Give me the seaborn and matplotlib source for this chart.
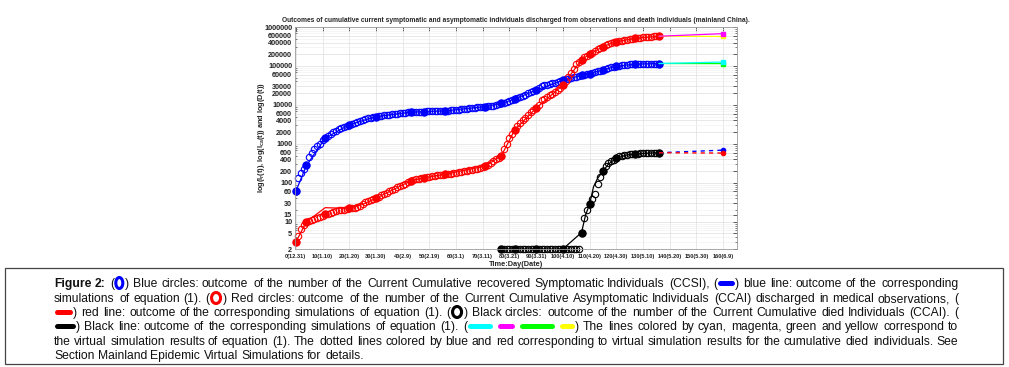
"""
Outcomes of cumulative symptomatic / asymptomatic / died individuals (mainland China)
"""

import numpy as np
import matplotlib
matplotlib.use("Agg")
import matplotlib.pyplot as plt
import seaborn as sns
from matplotlib.lines import Line2D
from matplotlib.patches import Ellipse, Rectangle
from matplotlib.ticker import LogLocator, NullFormatter

sns.set_theme(style="whitegrid")
plt.rcParams["font.family"] = ["Liberation Sans", "DejaVu Sans"]

# ---- data --------------------------------------------------------------------
days = np.arange(0, 137)

blue_obs = [
    60, 130, 180, 220, 280, 470, 600, 750, 880, 1000,
    1250, 1400, 1600, 1800, 2000, 2200, 2400, 2600, 2750, 2900,
    3100, 3300, 3500, 3700, 3900, 4100, 4300, 4500, 4700, 4850,
    5000, 5150, 5300, 5450, 5550, 5650, 5750, 5850, 5950, 6050,
    6200, 6300, 6400, 6500, 6550, 6600, 6650, 6700, 6750, 6800,
    6850, 6880, 6900, 6950, 6980, 7000, 7050, 7100, 7200, 7300,
    7400, 7500, 7650, 7800, 7950, 8100, 8300, 8500, 8700, 8850,
    9000, 9100, 9250, 9400, 9650, 10000, 10400, 10900, 11500, 12100,
    12700, 13300, 14200, 15200, 16200, 17300, 18500, 19800, 21000, 22500,
    24000, 27500, 30000, 31500, 33000, 34500, 36000, 37500, 39500, 41500,
    43000, 45000, 47000, 49000, 51000, 53000, 55500, 57500, 59500, 62000,
    64000, 67000, 70000, 73000, 76000, 79000, 83000, 88000, 92000, 95000,
    98000, 101000, 103000, 105000, 107000, 109000, 110500, 111500, 112500, 113000,
    113500, 114000, 114500, 115000, 115000, 115500, 115500,
]

red_obs = [
    3, 4.4, 6.5, 8.5, 10, 10.5, 11, 12, 12.5, 13,
    14, 15.5, 16, 17, 18, 19, 19.5, 20, 20.5, 21,
    22, 22.5, 23, 24, 25, 28, 32, 35, 37, 39,
    40, 44, 48, 52, 56, 61, 66, 71, 77, 83,
    89, 96, 104, 112, 118, 123, 127, 131, 135, 139,
    143, 147, 151, 155, 159, 163, 167, 170, 173, 176,
    180, 185, 190, 196, 202, 208, 214, 220, 228, 238,
    250, 270, 290, 320, 360, 400, 440, 500, 750, 1000,
    1400, 1800, 2300, 2900, 3500, 4100, 4700, 5500, 6500, 7400,
    8300, 10000, 13000, 14500, 16000, 17800, 19500, 21500, 23500, 27000,
    32000, 40000, 52000, 65000, 85000, 110000, 128000, 145000, 165000, 183000,
    200000, 220000, 240000, 265000, 290000, 315000, 340000, 365000, 385000, 405000,
    420000, 435000, 450000, 463000, 476000, 488000, 500000, 512000, 524000, 535000,
    545000, 553000, 560000, 566000, 571000, 576000, 580000,
]

black_days = np.arange(77, 137)
black_obs = [
    2, 2, 2, 2, 2, 2, 2, 2, 2, 2,
    2, 2, 2, 2, 2, 2, 2, 2, 2, 2,
    2, 2, 2, 2, 2, 2, 2, 2, 2, 2,
    5.3, 12.3, 20, 28, 39, 53, 94, 140, 198, 265,
    320, 360, 393, 440, 480, 500, 515, 527, 540, 550,
    560, 565, 570, 575, 580, 583, 586, 588, 590, 592,
]

filled_days = [0, 4, 11, 20, 30, 43, 48, 56, 71, 77, 82, 90, 100, 107, 110, 115, 120, 127, 136]
black_filled_days = [77, 82, 90, 100, 107, 110, 115, 120, 127, 136]

blue_sim_days = [0, 4, 11, 20, 30, 43, 48, 56, 71, 77, 82, 90, 100, 107, 110, 115, 120, 127, 136]
blue_sim = [60, 280, 1400, 3100, 5000, 6500, 6750, 7050, 9100, 10900, 14200,
            24000, 43000, 57500, 64000, 79000, 98000, 111500, 115500]
red_sim_days = [0, 4, 11, 20, 25, 30, 43, 48, 56, 71, 77, 82, 90, 100, 107, 110, 115, 120, 127, 136]
red_sim = [3, 10, 23, 22, 28, 40, 112, 135, 167, 270, 500, 2300, 8300, 32000,
           145000, 200000, 315000, 420000, 512000, 580000]
black_sim_days = [77, 82, 90, 100, 107, 108.5, 110, 111.5, 113, 115, 117, 120, 124, 127, 136]
black_sim = [2, 2, 2, 2, 5.3, 15, 28, 80, 130, 198, 300, 430, 520, 560, 592]

virt_days = [136, 160]
cyan_virt = [115500, 126000]
green_virt = [115500, 115000]
magenta_virt = [580000, 675000]
yellow_virt = [580000, 572000]
blue_dash_virt = [592, 690]
red_dash_virt = [592, 580]

x_ticks = [0, 10, 20, 30, 40, 50, 60, 70, 80, 90, 100, 110, 120, 130, 140, 150, 160]
x_tick_labels = ["0(12.31)", "10(1.10)", "20(1.20)", "30(1.30)", "40(2.9)", "50(2.19)",
                 "60(3.1)", "70(3.11)", "80(3.21)", "90(3.31)", "100(4.10)", "110(4.20)",
                 "120(4.30)", "130(5.10)", "140(5.20)", "150(5.30)", "160(6.9)"]
y_ticks = [2, 5, 10, 15, 30, 60, 100, 200, 400, 600, 1000, 2000, 4000, 6000, 10000,
           20000, 30000, 60000, 100000, 200000, 400000, 600000, 1000000]

title = ("Outcomes of cumulative current symptomatic and asymptomatic individuals "
         "discharged from observations and death individuals (mainland China).")

caption_lines = [
    [("t", "Figure 2:", "bold"), ("t", " (", "normal"), ("ring", "#0000ff", 9),
     ("t", ") Blue circles: outcome of the number of the Current Cumulative recovered "
           "Symptomatic Individuals (CCSI), (", "normal"), ("dash", "#0000ff", 16),
     ("t", ") blue line: outcome of the corresponding", "normal")],
    [("t", "simulations of equation (1). (", "normal"), ("ring", "#ff0000", 11),
     ("t", ") Red circles: outcome of the number of the Current Cumulative Asymptomatic "
           "Individuals (CCAI) discharged in medical observations, (", "normal")],
    [("dash", "#ff0000", 17),
     ("t", ") red line: outcome of the corresponding simulations of equation (1). (", "normal"),
     ("ring", "#000000", 11),
     ("t", ") Black circles: outcome of the number of the Current Cumulative died "
           "Individuals (CCAI). (", "normal")],
    [("dash", "#000000", 20),
     ("t", ") Black line: outcome of the corresponding simulations of equation (1). (", "normal"),
     ("dash", "#00ffff", 24), ("t", " ", "normal"), ("dash", "#ff00ff", 16), ("t", " ", "normal"),
     ("dash", "#00ff00", 34), ("t", " ", "normal"), ("dash", "#ffff00", 14),
     ("t", ")  The lines colored by cyan, magenta, green and yellow correspond to", "normal")],
    [("t", "the virtual simulation results of equation (1). The dotted lines colored by blue "
           "and red corresponding to virtual simulation results for the cumulative died "
           "individuals. See", "normal")],
    [("t", "Section Mainland Epidemic Virtual Simulations for details.", "normal")],
]
caption_y = [283, 298, 312, 326, 341, 355]

W, H = 1009, 367


def draw_caption(fig, lines, ys, x0, x1):
    renderer = fig.canvas.get_renderer()

    def text_width(s, weight, fs):
        t = fig.text(0, 0, s, fontsize=fs, fontweight=weight)
        w = t.get_window_extent(renderer).width
        t.remove()
        return w

    # size the font so the last line spans like the original
    fs = 10 * 312 / text_width("Section Mainland Epidemic Virtual Simulations for details.", "normal", 10)
    space = text_width("a a", "normal", fs) - text_width("aa", "normal", fs)

    for i, (segments, y) in enumerate(zip(lines, ys)):
        tokens = []
        gap = False
        for seg in segments:
            if seg[0] == "t":
                parts = seg[1].split(" ")
                for k, p in enumerate(parts):
                    if k > 0:
                        gap = True
                    if p:
                        tokens.append(("t", p, seg[2], gap, text_width(p, seg[2], fs)))
                        gap = False
            else:
                tokens.append((seg[0], seg[1], seg[2], gap, seg[2] + 2))
                gap = False
        n_gaps = sum(1 for t in tokens if t[3])
        natural = sum(t[4] for t in tokens) + space * n_gaps
        extra = (x1 - x0 - natural) / n_gaps if (i < len(lines) - 1 and n_gaps) else 0
        x = x0
        for kind, val, arg, g, w in tokens:
            if g:
                x += space + extra
            if kind == "t":
                fig.text(round(x) / W, 1 - (y + 4) / H, val, fontsize=fs, fontweight=arg,
                         color="#111111", ha="left", va="baseline")
            elif kind == "ring":
                fig.add_artist(Ellipse(((x + w / 2) / W, 1 - y / H), (arg - 2) / W, 11 / H,
                                       transform=fig.transFigure, fill=False,
                                       edgecolor=val, lw=2.2))
            else:
                fig.add_artist(Line2D([(x + 3) / W, (x + w - 3) / W], [1 - y / H, 1 - y / H],
                                      transform=fig.transFigure, color=val, lw=3.6,
                                      solid_capstyle="round"))
            x += w


fig = plt.figure(figsize=(W / 100, H / 100), dpi=100)
ax = fig.add_axes([295 / W, 1 - 249 / H, (737 - 295) / W, (249 - 27) / H])
ax.set_yscale("log")

# simulation lines
sns.lineplot(x=blue_sim_days, y=blue_sim, ax=ax, color="#0000ff", lw=0.9)
sns.lineplot(x=red_sim_days, y=red_sim, ax=ax, color="#ff0000", lw=0.9)
sns.lineplot(x=black_sim_days, y=black_sim, ax=ax, color="#000000", lw=0.9)

# observed circles
circle_kw = dict(ls="none", marker="o", ms=4.6, mfc="none", mew=0.8, clip_on=False)
ax.plot(days, blue_obs, mec="#0000ff", **circle_kw)
ax.plot(days, red_obs, mec="#ff0000", **circle_kw)
ax.plot(black_days, black_obs, mec="#000000", **circle_kw)

blue_arr, red_arr, black_arr = np.array(blue_obs), np.array(red_obs), np.array(black_obs)
ax.plot(filled_days, blue_arr[filled_days], ls="none", marker="o", ms=5, color="#0000ff", clip_on=False)
ax.plot(filled_days, red_arr[filled_days], ls="none", marker="o", ms=5, color="#ff0000", clip_on=False)
ax.plot(black_filled_days, black_arr[np.array(black_filled_days) - 77], ls="none", marker="o",
        ms=5, color="#000000", clip_on=False)

# virtual simulations
for vals, col in [(green_virt, "#00ff00"), (cyan_virt, "#00ffff"),
                  (yellow_virt, "#ffff00"), (magenta_virt, "#ff00ff")]:
    ax.plot(virt_days, vals, color=col, lw=0.9)
    ax.plot(virt_days[-1:], vals[-1:], ls="none", marker="s", ms=3, color=col)
ax.plot(virt_days, blue_dash_virt, color="#0000ff", lw=1.0, ls=(0, (3, 3)))
ax.plot(virt_days, red_dash_virt, color="#ff0000", lw=1.0, ls=(0, (3, 3)))
ax.plot(virt_days[-1:], blue_dash_virt[-1:], ls="none", marker="o", ms=3, color="#0000ff")
ax.plot(virt_days[-1:], red_dash_virt[-1:], ls="none", marker="o", ms=3, color="#ff0000")

ax.set_xlim(-0.3, 165.2)
ax.set_ylim(2, 1000000)
ax.set_xticks(x_ticks)
ax.set_xticklabels(x_tick_labels)
ax.set_yticks(y_ticks)
ax.set_yticklabels([str(v) for v in y_ticks])
ax.yaxis.set_minor_locator(LogLocator(base=10, subs=np.arange(2, 10) * 1.0, numticks=20))
ax.yaxis.set_minor_formatter(NullFormatter())

ax.tick_params(which="major", direction="in", top=True, right=True, length=3, width=0.5,
               pad=2, colors="#222222")
ax.tick_params(axis="x", labelsize=4.1, pad=3.8)
ax.tick_params(axis="y", labelsize=5.2, pad=2)
ax.tick_params(which="minor", direction="in", left=True, right=True, length=1.5, width=0.4)
for lbl in ax.get_xticklabels() + ax.get_yticklabels():
    lbl.set_fontweight("bold")

ax.grid(True, which="major", color="#dedede", lw=0.5)
ax.grid(True, which="minor", axis="y", color="#eeeeee", lw=0.4)
for sp in ax.spines.values():
    sp.set_color("#9a9a9a")
    sp.set_linewidth(0.6)

ax.set_title(title, fontsize=4.75, fontweight="bold", pad=3.5)
ax.set_xlabel("Time:Day(Date)", fontsize=5.3, fontweight="bold", labelpad=1.0)
ax.set_ylabel(r"log(I$_\mathregular{r}$(t)), log(I$_\mathregular{ca}$(t)) and log(D(t))",
              fontsize=5.3, fontweight="bold")
ax.yaxis.set_label_coords(-0.063, 0.5)

fig.add_artist(Rectangle((5 / W, 1 - 364 / H), 998 / W, 96 / H, transform=fig.transFigure,
                         fill=False, edgecolor="#444444", lw=0.9))
draw_caption(fig, caption_lines, caption_y, 54, 958)

fig.savefig("out.png", dpi=100)
plt.close(fig)
